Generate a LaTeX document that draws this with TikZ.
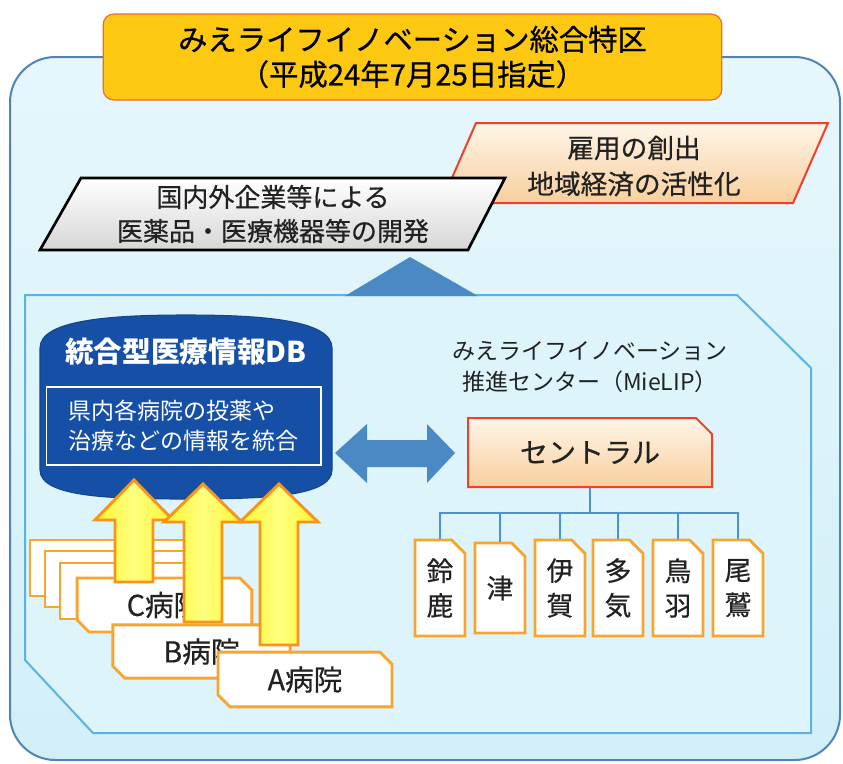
\documentclass[tikz,border=0pt]{standalone}
\usepackage{fontspec}
\setmainfont{Noto Sans CJK JP}
\newfontfamily\medfont{Noto Sans CJK JP}[FakeBold=0.6]
\usetikzlibrary{shapes.misc}
\definecolor{outertop}{HTML}{E6F7FC}
\definecolor{outerbot}{HTML}{D2EFF8}
\definecolor{outerline}{HTML}{4F84B6}
\definecolor{innerfill}{HTML}{DDF4FA}
\definecolor{innerline}{HTML}{5BB3E3}
\definecolor{gold}{HTML}{FCC812}
\definecolor{titleline}{HTML}{EE6A3A}
\definecolor{redline}{HTML}{F0402A}
\definecolor{peachtop}{HTML}{FFF5E8}
\definecolor{peachbot}{HTML}{F8CF9E}
\definecolor{blockblue}{HTML}{4A89C4}
\definecolor{dbblue}{HTML}{1650A6}
\definecolor{orangeline}{HTML}{F7A530}
\definecolor{arrowline}{HTML}{F7941D}
\definecolor{arrowfill}{HTML}{FFF52E}
\definecolor{arrowmid}{HTML}{FFFF80}
\definecolor{treeline}{HTML}{4B92D2}
\definecolor{txt}{HTML}{222222}
\begin{document}
\begin{tikzpicture}[x=0.75pt,y=-0.75pt,
  label/.style={text=txt, align=center, inner sep=0pt},
  hosp/.style={chamfered rectangle, chamfered rectangle corners={north east,south west},
    chamfered rectangle sep=4.5pt, fill=white, draw=orangeline, line width=2.2pt,
    text=txt, inner sep=0pt, font=\medfont\fontsize{21.5pt}{24pt}\selectfont},
  branch/.style={chamfered rectangle, chamfered rectangle corners={north east},
    chamfered rectangle sep=5pt, fill=white, draw=orangeline, line width=2.2pt,
    minimum width=37.5pt, minimum height=72pt, text=txt, align=center, inner sep=0pt,
    font=\medfont\fontsize{20pt}{26pt}\selectfont},
  tree/.style={draw=treeline, line width=1.9pt},
  yarrow/.style={left color=arrowfill, right color=arrowfill, middle color=arrowmid,
    draw=arrowline, line width=2.2pt, line join=miter}]
\fill[white] (0,0) rectangle (843,764);
\useasboundingbox (0,0) rectangle (843,764);
% outer panel
\draw[draw=outerline, line width=1.5pt, top color=outertop, bottom color=outerbot, rounded corners=34pt]
  (10,57) rectangle (840,760);
% title
\node[fill=gold, draw=titleline, line width=0.9pt, rounded corners=8pt,
  minimum width=464pt, minimum height=64.5pt, align=center, inner sep=0pt, text=black,
  font=\medfont\fontsize{22pt}{26.25pt}\selectfont] (title) at (412.5,57)
  {みえライフイノベーション総合特区\\（平成24年7月25日指定）};
% red parallelogram
\draw[draw=redline, line width=1.5pt, top color=peachtop, bottom color=peachbot]
  (476,123) -- (828,123) -- (793,203) -- (441,203) -- cycle;
\node[label, font=\medfont\fontsize{20pt}{27pt}\selectfont] (effect) at (634,166)
  {雇用の創出\\地域経済の活性化};
% black parallelogram
\draw[draw=black, line width=2pt, top color=white, bottom color=black!16]
  (81,178) -- (505,178) -- (468,250) -- (40,250) -- cycle;
\node[label, font=\medfont\fontsize{19.5pt}{25.5pt}\selectfont] (develop) at (273,214)
  {国内外企業等による\\医薬品・医療機器等の開発};
% inner panel
\draw[draw=innerline, line width=1.5pt, fill=innerfill]
  (25,295) -- (737,295) -- (811,368) -- (811,733) -- (93,733) -- (25,660) -- cycle;
% triangle
\fill[blockblue] (345,296) -- (410,257) -- (478,296) -- cycle;
% DB
\filldraw[fill=dbblue, draw=dbblue!85!black, line width=0.8pt]
  (40,470) -- (40,348) .. controls (40,320) and (110,315) .. (186,315)
  .. controls (262,315) and (332,320) .. (332,348) -- (332,470)
  .. controls (332,497) and (262,499) .. (186,499)
  .. controls (110,499) and (40,497) .. (40,470) -- cycle;
\node[text=white, inner sep=0pt, font=\bfseries\fontsize{21.5pt}{24pt}\selectfont] (dbtitle) at (186,352)
  {統合型医療情報DB};
\node[draw=white, line width=1pt, minimum width=206pt, minimum height=58.5pt, text=white,
  align=left, inner sep=0pt, font=\fontsize{17.25pt}{22.5pt}\selectfont] (dbinfo) at (183.5,426)
  {県内各病院の投薬や\\治療などの情報を統合};
% double arrow
\fill[blockblue] (335,453) -- (367,424) -- (367,440) -- (427,440) -- (427,424) -- (455,453)
  -- (427,483) -- (427,467) -- (367,467) -- (367,483) -- cycle;
% MieLIP
\node[label, font=\fontsize{17.25pt}{23.25pt}\selectfont] (mielip) at (590,367)
  {みえライフイノベーション\\推進センター（MieLIP）};
\node[chamfered rectangle, chamfered rectangle corners={north east}, chamfered rectangle sep=6pt,
  top color=peachtop, bottom color=peachbot, draw=redline, line width=1.5pt,
  minimum width=183pt, minimum height=51.75pt, text=txt, inner sep=0pt,
  font=\medfont\fontsize{21pt}{24pt}\selectfont] (central) at (590,452.5) {セントラル};
% branches
\node[branch] (b1) at (440,588) {鈴\\鹿};
\node[branch, minimum height=67.5pt] (b2) at (500,588) {津};
\node[branch] (b3) at (560,588) {伊\\賀};
\node[branch] (b4) at (618,588) {多\\気};
\node[branch] (b5) at (678,588) {鳥\\羽};
\node[branch] (b6) at (738,588) {尾\\鷲};
\coordinate (bus) at (590,513);
\draw[tree] (central.south) -- (bus);
\foreach \b in {b1,b2,b3,b4,b5,b6} \draw[tree] (bus) -| (\b.north);
% hospitals
\node[hosp, minimum width=120pt, minimum height=42pt] (s1) at (110,568) {};
\node[hosp, minimum width=120pt, minimum height=42pt] (s2) at (125,579) {};
\node[hosp, minimum width=120pt, minimum height=42pt] (s3) at (140,591) {};
\node[hosp, minimum width=131pt, minimum height=40.5pt] (hc) at (164.5,605) {C病院};
\draw[yarrow] (134,480) -- (173,520) -- (153,520) -- (153,582) -- (115,582) -- (115,520) -- (95,520) -- cycle;
\draw[yarrow] (203,484) -- (242,522) -- (222,522) -- (222,622) -- (184,622) -- (184,522) -- (164,522) -- cycle;
\node[hosp, minimum width=133pt, minimum height=40pt] (hb) at (201.5,651.5) {B病院};
\draw[yarrow] (279,484) -- (318,522) -- (298,522) -- (298,645) -- (260,645) -- (260,522) -- (240,522) -- cycle;
\node[hosp, minimum width=130.5pt, minimum height=41pt] (ha) at (305,679.5) {A病院};
\end{tikzpicture}
\end{document}
